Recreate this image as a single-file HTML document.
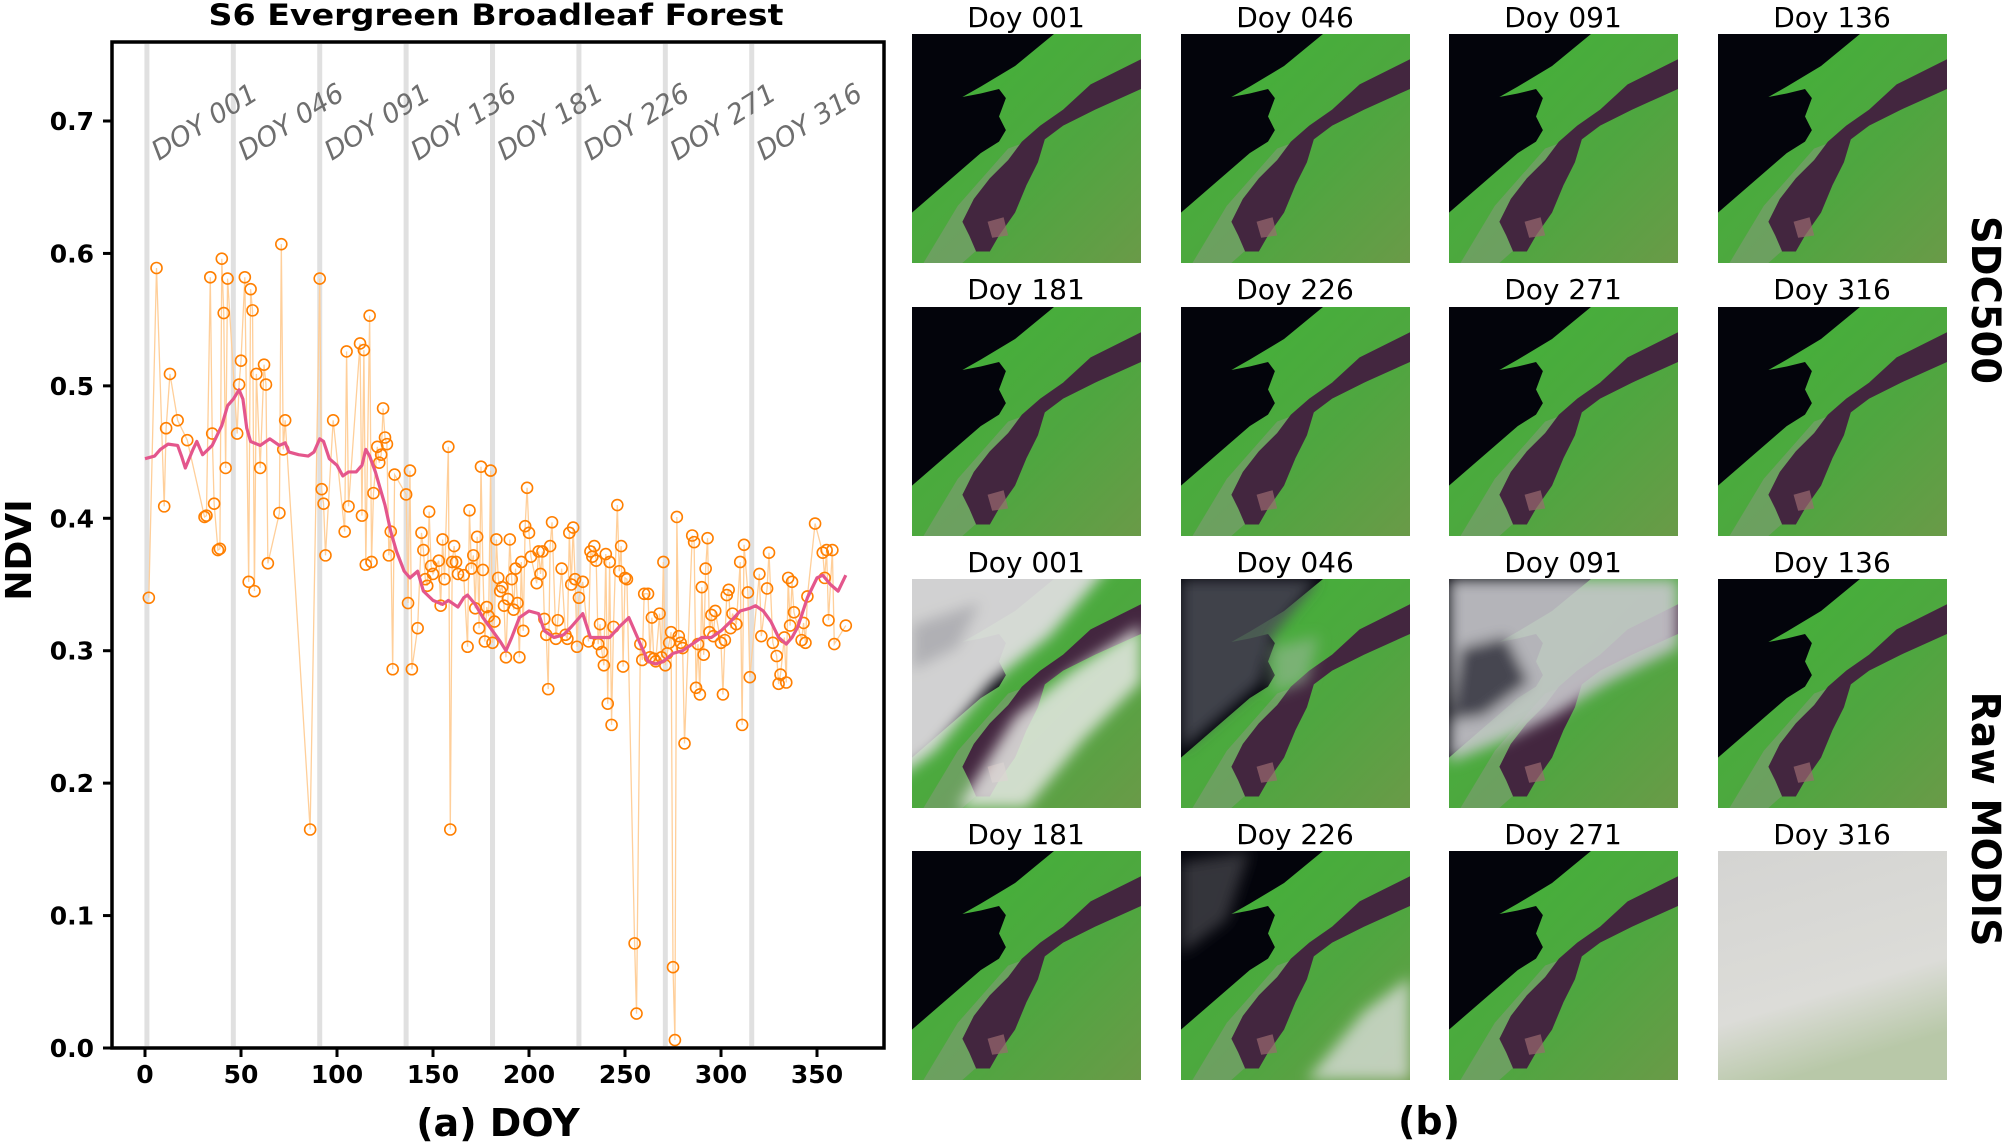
<!DOCTYPE html>
<html><head><meta charset="utf-8">
<style>
html,body{margin:0;padding:0;background:#fff;}
svg{display:block;font-family:"DejaVu Sans","Liberation Sans",sans-serif;}
</style></head>
<body>
<svg id="fig" width="2005" height="1145" viewBox="0 0 2005 1145" xmlns="http://www.w3.org/2000/svg">
<defs>
  <linearGradient id="landGrad" x1="0" y1="0" x2="1" y2="1">
    <stop offset="0" stop-color="#3fb536"/>
    <stop offset="0.6" stop-color="#4fa640"/>
    <stop offset="1" stop-color="#6a9a48"/>
  </linearGradient>
  <filter id="blur3"><feGaussianBlur stdDeviation="3"/></filter>
  <symbol id="baseTile" viewBox="0 0 100 100" preserveAspectRatio="none">
    <rect x="0" y="0" width="100" height="100" fill="url(#landGrad)"/>
    <path d="M42,50 L58,44 L50,66 L40,84 L22,100 L5,100 L20,75 Z" fill="#8a9a80" opacity="0.5"/>
    <path d="M0,0 L62,0 L45,14 L30,23 L22,27.5 L30,26 L38,24 L41,28 L38,36 L41,42 L38,47 L30,52 L0,78 Z" fill="#03040b"/>
    <path d="M100,11 L100,24 L80,33 L66,40 L58,46 L55,56 L50,66 L45,78 L38,88 L34,95 L28,95 L25,88 L22,82 L27,72 L34,63 L42,55 L48,47 L56,40 L66,33 L78,22 Z" fill="#43263f"/>
    <path d="M33,82 L40,80 L42,88 L35,89 Z" fill="#9a6a70" opacity="0.7"/>
  </symbol>
</defs>

<g id="panelA">
  <text x="496" y="25" text-anchor="middle" font-size="29" font-weight="bold" textLength="575" lengthAdjust="spacingAndGlyphs">S6 Evergreen Broadleaf Forest</text>
  <g id="doyLines"></g>
  <g id="doyLabels"></g>
  <g id="rawSeries"></g>
  <g id="smoothSeries"></g>
  <rect x="112" y="42" width="772" height="1006" fill="none" stroke="#000" stroke-width="3.5"/>
  <g id="yAxis"></g>
  <g id="xAxis"></g>
  <text transform="translate(31,550) rotate(-90)" text-anchor="middle" font-size="36" font-weight="bold">NDVI</text>
  <text x="498" y="1136" text-anchor="middle" font-size="38" font-weight="bold">(a) DOY</text>
</g>

<g id="panelB">
  <g><text x="1026" y="27" text-anchor="middle" font-size="28">Doy 001</text><use href="#baseTile" x="912" y="34" width="229" height="229"/></g>
  <g><text x="1295" y="27" text-anchor="middle" font-size="28">Doy 046</text><use href="#baseTile" x="1181" y="34" width="229" height="229"/></g>
  <g><text x="1563" y="27" text-anchor="middle" font-size="28">Doy 091</text><use href="#baseTile" x="1449" y="34" width="229" height="229"/></g>
  <g><text x="1832" y="27" text-anchor="middle" font-size="28">Doy 136</text><use href="#baseTile" x="1718" y="34" width="229" height="229"/></g>
  <g><text x="1026" y="299" text-anchor="middle" font-size="28">Doy 181</text><use href="#baseTile" x="912" y="307" width="229" height="229"/></g>
  <g><text x="1295" y="299" text-anchor="middle" font-size="28">Doy 226</text><use href="#baseTile" x="1181" y="307" width="229" height="229"/></g>
  <g><text x="1563" y="299" text-anchor="middle" font-size="28">Doy 271</text><use href="#baseTile" x="1449" y="307" width="229" height="229"/></g>
  <g><text x="1832" y="299" text-anchor="middle" font-size="28">Doy 316</text><use href="#baseTile" x="1718" y="307" width="229" height="229"/></g>
  <g>
    <text x="1026" y="572" text-anchor="middle" font-size="28">Doy 001</text>
    <svg x="912" y="579" width="229" height="229" viewBox="0 0 100 100" preserveAspectRatio="none">
      <use href="#baseTile" x="0" y="0" width="100" height="100"/>
      <g filter="url(#blur3)">
        <path d="M-10,-10 L90,-10 L60,25 L35,45 L10,75 L-10,90 Z" fill="#dcdcdc" opacity="0.95"/>
        <path d="M20,100 L45,60 L70,40 L100,20 L100,45 L75,70 L50,100 Z" fill="#e6e8e4" opacity="0.85"/>
        <path d="M0,20 L30,10 L20,30 L0,40 Z" fill="#9a9aa0" opacity="0.6"/>
      </g>
    </svg>
  </g>
  <g>
    <text x="1295" y="572" text-anchor="middle" font-size="28">Doy 046</text>
    <svg x="1181" y="579" width="229" height="229" viewBox="0 0 100 100" preserveAspectRatio="none">
      <use href="#baseTile" x="0" y="0" width="100" height="100"/>
      <g filter="url(#blur3)">
        <path d="M0,0 L60,0 L40,25 L35,45 L0,75 Z" fill="#4a4c55" opacity="0.85"/>
        <path d="M40,30 L60,25 L55,45 L40,50 Z" fill="#9ab89a" opacity="0.6"/>
      </g>
    </svg>
  </g>
  <g>
    <text x="1563" y="572" text-anchor="middle" font-size="28">Doy 091</text>
    <svg x="1449" y="579" width="229" height="229" viewBox="0 0 100 100" preserveAspectRatio="none">
      <use href="#baseTile" x="0" y="0" width="100" height="100"/>
      <g filter="url(#blur3)">
        <path d="M0,0 L100,0 L100,30 L70,45 L45,60 L25,70 L0,80 Z" fill="#c8c8cc" opacity="0.9"/>
        <path d="M5,30 L25,25 L35,45 L15,60 L0,62 Z" fill="#2a2a36" opacity="0.8"/>
      </g>
    </svg>
  </g>
  <g>
    <text x="1832" y="572" text-anchor="middle" font-size="28">Doy 136</text>
    <use href="#baseTile" x="1718" y="579" width="229" height="229"/>
  </g>
  <g>
    <text x="1026" y="844" text-anchor="middle" font-size="28">Doy 181</text>
    <use href="#baseTile" x="912" y="851" width="229" height="229"/>
  </g>
  <g>
    <text x="1295" y="844" text-anchor="middle" font-size="28">Doy 226</text>
    <svg x="1181" y="851" width="229" height="229" viewBox="0 0 100 100" preserveAspectRatio="none">
      <use href="#baseTile" x="0" y="0" width="100" height="100"/>
      <g filter="url(#blur3)">
        <path d="M0,5 L30,0 L20,30 L0,45 Z" fill="#4a4a50" opacity="0.7"/>
        <path d="M55,100 L80,70 L100,55 L100,100 Z" fill="#d8dcd8" opacity="0.8"/>
      </g>
    </svg>
  </g>
  <g>
    <text x="1563" y="844" text-anchor="middle" font-size="28">Doy 271</text>
    <use href="#baseTile" x="1449" y="851" width="229" height="229"/>
  </g>
  <g>
    <text x="1832" y="844" text-anchor="middle" font-size="28">Doy 316</text>
    <svg x="1718" y="851" width="229" height="229" viewBox="0 0 100 100" preserveAspectRatio="none">
      <defs><linearGradient id="cloudG" x1="0" y1="0" x2="0.3" y2="1">
        <stop offset="0" stop-color="#d4d4d2"/><stop offset="0.7" stop-color="#dcdcd8"/><stop offset="1" stop-color="#b8c8a8"/>
      </linearGradient></defs>
      <rect width="100" height="100" fill="url(#cloudG)"/>
    </svg>
  </g>
  <text transform="translate(1972,300) rotate(90)" text-anchor="middle" font-size="40" font-weight="bold" textLength="168" lengthAdjust="spacingAndGlyphs">SDC500</text>
  <text transform="translate(1972,819) rotate(90)" text-anchor="middle" font-size="40" font-weight="bold" textLength="255" lengthAdjust="spacingAndGlyphs">Raw MODIS</text>
  <text x="1429" y="1134" text-anchor="middle" font-size="38" font-weight="bold">(b)</text>
</g>
</svg>

<script>
const rawDoy = [2,6,10,11,13,17,22,31,32,34,35,36,38,39,40,41,42,43,48,49,50,52,54,55,56,57,58,60,62,63,64,70,71,72,73,86,91,92,93,94,98,104,105,106,112,113,114,115,117,118,119,121,122,123,124,125,126,127,128,129,130,136,137,138,139,142,144,145,146,147,148,149,150,153,154,155,156,158,159,160,161,162,163,166,168,169,170,171,172,173,174,175,176,177,178,179,180,181,182,183,184,185,186,187,188,189,190,191,192,193,194,195,196,197,198,199,200,201,204,205,206,207,208,209,210,211,212,214,215,217,219,220,221,222,223,224,225,226,228,231,232,233,234,235,236,237,238,239,240,241,242,243,244,246,247,248,249,250,251,255,256,258,259,260,262,263,264,265,266,268,269,270,271,272,273,274,275,276,277,278,279,280,281,285,286,287,288,289,290,291,292,293,294,295,296,297,300,301,302,303,304,305,306,308,310,311,312,314,315,320,321,324,325,327,329,330,331,333,334,335,336,337,338,342,343,344,345,349,353,354,355,356,358,359,365];
const rawNdvi = [0.340,0.589,0.409,0.468,0.509,0.474,0.459,0.401,0.402,0.582,0.464,0.411,0.376,0.377,0.596,0.555,0.438,0.581,0.464,0.501,0.519,0.582,0.352,0.573,0.557,0.345,0.509,0.438,0.516,0.501,0.366,0.404,0.607,0.452,0.474,0.165,0.581,0.422,0.411,0.372,0.474,0.390,0.526,0.409,0.532,0.402,0.527,0.365,0.553,0.367,0.419,0.454,0.442,0.448,0.483,0.461,0.456,0.372,0.390,0.286,0.433,0.418,0.336,0.436,0.286,0.317,0.389,0.376,0.354,0.349,0.405,0.364,0.358,0.368,0.334,0.384,0.354,0.454,0.165,0.367,0.379,0.367,0.358,0.357,0.303,0.406,0.362,0.372,0.332,0.386,0.317,0.439,0.361,0.307,0.333,0.326,0.436,0.306,0.322,0.384,0.355,0.345,0.348,0.334,0.295,0.339,0.384,0.354,0.331,0.362,0.336,0.295,0.367,0.315,0.394,0.423,0.389,0.371,0.351,0.375,0.358,0.375,0.324,0.312,0.271,0.379,0.397,0.309,0.323,0.362,0.312,0.309,0.389,0.350,0.393,0.354,0.303,0.340,0.352,0.307,0.375,0.371,0.379,0.368,0.305,0.320,0.299,0.289,0.373,0.260,0.367,0.244,0.318,0.410,0.360,0.379,0.288,0.355,0.354,0.079,0.026,0.305,0.293,0.343,0.343,0.295,0.325,0.294,0.292,0.328,0.295,0.367,0.289,0.298,0.306,0.314,0.061,0.006,0.401,0.311,0.306,0.302,0.230,0.387,0.382,0.272,0.305,0.267,0.348,0.297,0.362,0.385,0.314,0.327,0.311,0.330,0.306,0.267,0.308,0.342,0.346,0.317,0.328,0.320,0.367,0.244,0.380,0.344,0.280,0.358,0.311,0.347,0.374,0.306,0.296,0.275,0.282,0.310,0.276,0.355,0.319,0.352,0.329,0.308,0.321,0.306,0.341,0.396,0.374,0.355,0.376,0.323,0.376,0.305,0.319];
const smoothDoy = [0,5,8,12,17,19,21,23,25,27,30,35,40,43,46,49,51,53,55,60,65,70,73,75,80,85,88,91,93,96,100,103,106,110,113,115,117,120,125,128,131,135,138,142,145,150,155,158,163,166,168,172,176,181,185,188,191,195,200,205,208,213,218,222,228,232,237,242,247,252,255,258,262,266,270,275,280,285,290,295,300,305,310,315,318,322,326,330,334,337,340,345,350,353,357,361,365];
const smoothNdvi = [0.445,0.447,0.452,0.456,0.455,0.447,0.438,0.445,0.452,0.458,0.448,0.455,0.470,0.485,0.490,0.497,0.490,0.468,0.458,0.455,0.460,0.455,0.457,0.450,0.448,0.447,0.450,0.460,0.458,0.445,0.440,0.432,0.435,0.435,0.440,0.452,0.447,0.435,0.410,0.390,0.375,0.360,0.355,0.360,0.345,0.338,0.335,0.338,0.333,0.340,0.342,0.335,0.325,0.315,0.307,0.300,0.310,0.325,0.330,0.328,0.315,0.310,0.312,0.318,0.328,0.310,0.310,0.310,0.318,0.325,0.315,0.305,0.292,0.290,0.292,0.298,0.300,0.305,0.310,0.310,0.315,0.322,0.330,0.332,0.334,0.330,0.322,0.310,0.305,0.310,0.318,0.340,0.355,0.357,0.350,0.345,0.357];
const refDoys = [1,46,91,136,181,226,271,316];
const refLabels = ["DOY 001","DOY 046","DOY 091","DOY 136","DOY 181","DOY 226","DOY 271","DOY 316"];
const xTicks = [0,50,100,150,200,250,300,350];
const yTicks = [0.0,0.1,0.2,0.3,0.4,0.5,0.6,0.7];

const NS = "http://www.w3.org/2000/svg";
function xScale(d){ return 145 + d * (817 - 145) / 350; }
function yScale(v){ return 1048 - v * (1048 - 121) / 0.7; }
function mk(tag, attrs, parent){
  const e = document.createElementNS(NS, tag);
  for (const k in attrs) e.setAttribute(k, attrs[k]);
  parent.appendChild(e);
  return e;
}

const gL = document.getElementById('doyLines');
const gT = document.getElementById('doyLabels');
refDoys.forEach((d, i) => {
  const ln = mk('line', {x1: xScale(d), x2: xScale(d), y1: 44, y2: 1046, stroke: '#e0e0e0', 'stroke-width': 5}, gL);
  
  
  const tx = xScale(d) + 12, ty = 161;
  const t = mk('text', {x: tx, y: ty, transform: 'rotate(-32 ' + tx + ' ' + ty + ')', 'font-size': 27, 'font-style': 'italic', fill: '#6e6e6e'}, gT);
  t.textContent = refLabels[i];
  
  
});

const gR = document.getElementById('rawSeries');
let pts = rawDoy.map((d, i) => xScale(d) + ',' + yScale(rawNdvi[i])).join(' ');
const rl = mk('polyline', {points: pts, fill: 'none', stroke: '#ffcf9a', 'stroke-width': 1.3}, gR);


rawDoy.forEach((d, i) => {
  const c = mk('circle', {cx: xScale(d), cy: yScale(rawNdvi[i]), r: 5.5, fill: 'none', stroke: '#ff7f00', 'stroke-width': 1.6}, gR);
  
  
});

const gS = document.getElementById('smoothSeries');
const sp = smoothDoy.map((d, i) => xScale(d) + ',' + yScale(smoothNdvi[i])).join(' ');
const sl = mk('polyline', {points: sp, fill: 'none', stroke: '#e4568c', 'stroke-width': 3.2, 'stroke-linejoin': 'round'}, gS);



const gY = document.getElementById('yAxis');
yTicks.forEach(v => {
  const y = yScale(v);
  const tk = mk('line', {x1: 103, x2: 112, y1: y, y2: y, stroke: '#000', 'stroke-width': 3}, gY);
  
  
  const t = mk('text', {x: 94, y: y + 9, 'text-anchor': 'end', 'font-size': 25, 'font-weight': 'bold'}, gY);
  t.textContent = v.toFixed(1);
  
  
});
const gX = document.getElementById('xAxis');
xTicks.forEach(d => {
  const x = xScale(d);
  const tk = mk('line', {x1: x, x2: x, y1: 1048, y2: 1057, stroke: '#000', 'stroke-width': 3}, gX);
  
  
  const t = mk('text', {x: x, y: 1083, 'text-anchor': 'middle', 'font-size': 25, 'font-weight': 'bold'}, gX);
  t.textContent = String(d);
  
  
});
</script>
</body></html>
